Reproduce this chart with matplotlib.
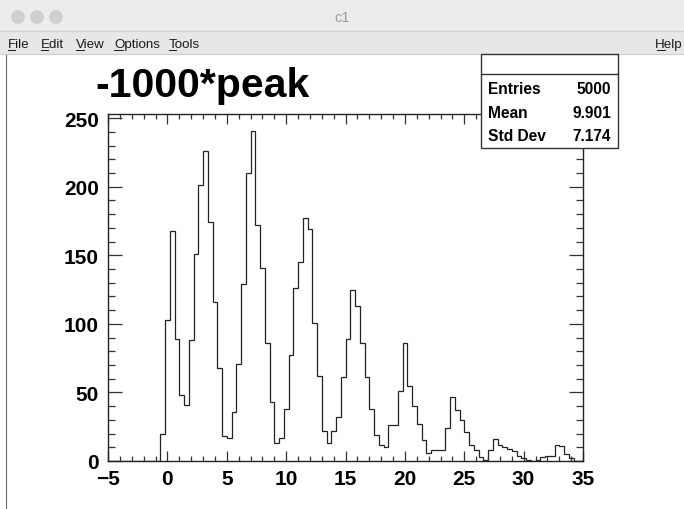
import numpy as np
import matplotlib
matplotlib.use('Agg')
import matplotlib.pyplot as plt
from matplotlib.patches import Rectangle, Ellipse
from matplotlib.lines import Line2D
from matplotlib.ticker import MultipleLocator

# histogram: 100 bins from -5 to 35
nbins, xlow, xup = 100, -5.0, 35.0
counts = [0, 0, 0, 0, 0, 0, 0, 0, 0, 0,
          0, 20, 103, 168, 89, 48, 41, 88, 151, 201,
          226, 174, 116, 68, 18, 17, 36, 71, 129, 210,
          241, 172, 141, 86, 43, 13, 17, 38, 77, 126,
          145, 177, 169, 101, 62, 22, 13, 22, 32, 61,
          89, 125, 113, 86, 61, 38, 19, 12, 10, 26,
          26, 51, 86, 55, 40, 27, 15, 6, 8, 8,
          8, 24, 47, 37, 30, 21, 12, 8, 3, 1,
          8, 16, 12, 10, 9, 7, 4, 2, 1, 0,
          1, 3, 4, 4, 12, 11, 5, 2, 0, 0]

hist_title = '-1000*peak'
stat_names = ['Entries', 'Mean', 'Std Dev']
stat_values = ['5000', '9.901', '7.174']
menu_items = ['File', 'Edit', 'View', 'Options', 'Tools']
menu_x = [8, 41, 76, 114, 169]

W, H = 684, 510
def fx(x): return x / W
def fy(y): return 1 - y / H

plt.rcParams['font.family'] = ['Liberation Sans', 'DejaVu Sans']
fig = plt.figure(figsize=(W / 100, H / 100), dpi=100)
fig.patch.set_facecolor('white')

# window chrome: title bar + menu bar
fig.add_artist(Rectangle((0, fy(31)), 1, 31 / H, transform=fig.transFigure,
                         facecolor='#ececec', edgecolor='none'))
fig.add_artist(Rectangle((0, fy(55)), 1, 24 / H, transform=fig.transFigure,
                         facecolor='#e7e7e7', edgecolor='none'))
fig.add_artist(Line2D([0, 1], [fy(31.5), fy(31.5)], transform=fig.transFigure,
                      color='#d2d2d2', lw=0.8))
fig.add_artist(Line2D([0, 1], [fy(55), fy(55)], transform=fig.transFigure,
                      color='#cfcfcf', lw=0.8))
for cx in [18, 37, 56]:
    fig.add_artist(Ellipse((fx(cx), fy(18)), 12.5 / W, 12.5 / H,
                           transform=fig.transFigure,
                           facecolor='#d0d0d0', edgecolor='#c4c4c4', lw=0.5))
fig.text(fx(342), fy(18), 'c1', ha='center', va='center', fontsize=10.5,
         color='#9b9b9b')
for name, x in zip(menu_items, menu_x):
    fig.text(fx(x), fy(48), name, ha='left', va='baseline', fontsize=9.6,
             color='#1a1a1a')
fig.text(fx(682), fy(48), 'Help', ha='right', va='baseline', fontsize=9.6,
         color='#1a1a1a')
# underline first letter of menu entries
first_w = {'File': 7, 'Edit': 7, 'View': 8, 'Options': 9, 'Tools': 7}
for name, x in zip(menu_items, menu_x):
    fig.add_artist(Line2D([fx(x), fx(x + first_w[name])], [fy(50.5), fy(50.5)],
                          transform=fig.transFigure, color='#1a1a1a', lw=0.7))
fig.add_artist(Line2D([fx(657), fx(665)], [fy(50.5), fy(50.5)],
                      transform=fig.transFigure, color='#1a1a1a', lw=0.7))
# canvas left border
fig.add_artist(Line2D([fx(5.5), fx(5.5)], [fy(56), 0], transform=fig.transFigure,
                      color='#6a6a6a', lw=0.8))

# frame
ax = fig.add_axes([fx(108), fy(462), (583 - 108) / W, (462 - 115) / H])
edges = np.linspace(xlow, xup, nbins + 1)
ax.stairs(counts, edges, color='#222222', lw=0.9)
ax.set_xlim(xlow, xup)
ax.set_ylim(0, 1.05 * max(counts))

ax.xaxis.set_major_locator(MultipleLocator(5))
ax.xaxis.set_minor_locator(MultipleLocator(1))
ax.yaxis.set_major_locator(MultipleLocator(50))
ax.yaxis.set_minor_locator(MultipleLocator(10))
ax.tick_params(axis='both', which='both', direction='in', top=True, right=True,
               width=0.9, color='#333333')
ax.tick_params(axis='x', which='major', length=7.5, pad=5.5, labelsize=15)
ax.tick_params(axis='x', which='minor', length=3.75)
ax.tick_params(axis='y', which='major', length=10.3, pad=6.5, labelsize=15)
ax.tick_params(axis='y', which='minor', length=5.1)
for lab in ax.get_xticklabels() + ax.get_yticklabels():
    lab.set_fontweight('bold')
for s in ax.spines.values():
    s.set_linewidth(1.0)
    s.set_color('#222222')

# title
fig.text(fx(95), fy(97), hist_title, ha='left', va='baseline', fontsize=29.5,
         fontweight='bold')

# stats box
fig.add_artist(Rectangle((fx(481), fy(149)), (618 - 481) / W, (149 - 55) / H,
                         transform=fig.transFigure, facecolor='white',
                         edgecolor='#333333', lw=1.0, zorder=5))
fig.add_artist(Line2D([fx(481), fx(618)], [fy(75), fy(75)], transform=fig.transFigure,
                      color='#333333', lw=1.0, zorder=6))
for i, (nm, val) in enumerate(zip(stat_names, stat_values)):
    yc = fy(90 + i * 23.5)
    fig.text(fx(488), yc, nm, ha='left', va='center', fontsize=11.2,
             fontweight='bold', zorder=7)
    fig.text(fx(611), yc, val, ha='right', va='center', fontsize=11.2,
             fontweight='bold', zorder=7)

fig.savefig('out.png', dpi=100)
